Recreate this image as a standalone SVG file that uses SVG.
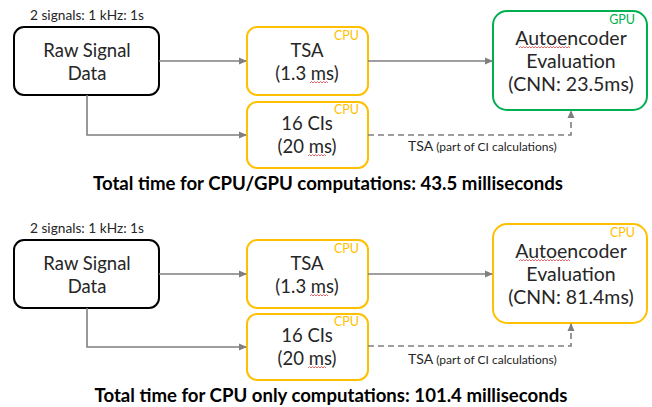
<svg xmlns="http://www.w3.org/2000/svg" width="652" height="407" viewBox="0 0 652 407">
<defs>
<marker id="ah" markerWidth="8" markerHeight="8" refX="7" refY="4" orient="auto" markerUnits="userSpaceOnUse">
<path d="M0,0.5 L8,4 L0,7.5 Z" fill="#7f7f7f"/>
</marker>
<style>
text{font-family:Lato,"Open Sans","Liberation Sans",sans-serif;fill:#262626}
.box{fill:#fff;stroke-width:2}
.raw{stroke:#000}
.cpu{stroke:#ffc000}
.gpu{stroke:#00b050}
.t{font-size:18.5px;text-anchor:middle}
.tag{font-size:12.5px;text-anchor:end}
.tc{fill:#ffc000}
.tg{fill:#00b050}
.lbl{font-size:13.7px;text-anchor:middle}
.total{font-size:18.5px;font-weight:bold;text-anchor:middle;fill:#000}
.con{fill:none;stroke:#7f7f7f;stroke-width:1.6}
.dash{stroke-dasharray:6 4}
.sq{fill:none;stroke:#e04040;stroke-width:0.8}
</style>
</defs>

<!-- Top panel -->
<g id="top">
<g id="raw1">
<text class="lbl" x="87" y="20">2 signals: 1 kHz: 1s</text>
<rect class="box raw" x="14" y="27" width="145" height="68" rx="10"/>
<text class="t" x="87" y="57">Raw Signal</text>
<text class="t" x="87" y="80">Data</text>
</g>
<g id="tsa1">
<rect class="box cpu" x="247" y="27" width="121" height="68" rx="10"/>
<text class="tag tc" x="359" y="40">CPU</text>
<text class="t" x="307" y="57">TSA</text>
<text class="t" x="307" y="80">(1.3 ms)</text>
<path class="sq" d="M310,83 l1.5,-1.5 l1.5,1.5 l1.5,-1.5 l1.5,1.5 l1.5,-1.5 l1.5,1.5 l1.5,-1.5 l1.5,1.5 l1.5,-1.5 l1.5,1.5 l1.5,-1.5 l1.5,1.5"/>
</g>
<g id="ci1">
<rect class="box cpu" x="247" y="102" width="121" height="66" rx="10"/>
<text class="tag tc" x="359" y="114">CPU</text>
<text class="t" x="307" y="130">16 CIs</text>
<text class="t" x="307" y="153">(20 ms)</text>
<path class="sq" d="M308,156 l1.5,-1.5 l1.5,1.5 l1.5,-1.5 l1.5,1.5 l1.5,-1.5 l1.5,1.5 l1.5,-1.5 l1.5,1.5 l1.5,-1.5 l1.5,1.5 l1.5,-1.5 l1.5,1.5"/>
</g>
<g id="ae1">
<rect class="box gpu" x="493" y="11" width="154" height="99" rx="14"/>
<text class="tag tg" x="635" y="24">GPU</text>
<text class="t" x="571" y="45" style="font-size:19.5px">Autoencoder</text>
<text class="t" x="571" y="68" style="font-size:19.5px">Evaluation</text>
<text class="t" x="571" y="91" style="font-size:19.5px">(CNN: 23.5ms)</text>
<path class="sq" d="M519,48 l1.5,-1.5 l1.5,1.5 l1.5,-1.5 l1.5,1.5 l1.5,-1.5 l1.5,1.5 l1.5,-1.5 l1.5,1.5 l1.5,-1.5 l1.5,1.5 l1.5,-1.5 l1.5,1.5 l1.5,-1.5 l1.5,1.5 l1.5,-1.5 l1.5,1.5 l1.5,-1.5 l1.5,1.5 l1.5,-1.5 l1.5,1.5 l1.5,-1.5 l1.5,1.5 l1.5,-1.5 l1.5,1.5 l1.5,-1.5 l1.5,1.5 l1.5,-1.5 l1.5,1.5 l1.5,-1.5 l1.5,1.5 l1.5,-1.5 l1.5,1.5 l1.5,-1.5 l1.5,1.5"/>
</g>
<g id="connectors1">
<path class="con" d="M159,61 H246" marker-end="url(#ah)"/>
<path class="con" d="M87,95 V135 H246" marker-end="url(#ah)"/>
<path class="con" d="M368,61 H492" marker-end="url(#ah)"/>
<path class="con dash" d="M368,135 H571 V111" marker-end="url(#ah)"/>
<text x="408" y="151" style="font-size:14px">TSA <tspan style="font-size:12px">(part of CI calculations)</tspan></text>
</g>
<text class="total" x="328" y="190" textLength="470" lengthAdjust="spacingAndGlyphs">Total time for CPU/GPU computations: 43.5 milliseconds</text>
</g>

<!-- Bottom panel -->
<g id="bottom">
<g id="raw2">
<text class="lbl" x="87" y="233">2 signals: 1 kHz: 1s</text>
<rect class="box raw" x="14" y="240" width="145" height="68" rx="10"/>
<text class="t" x="87" y="270">Raw Signal</text>
<text class="t" x="87" y="293">Data</text>
</g>
<g id="tsa2">
<rect class="box cpu" x="247" y="240" width="121" height="68" rx="10"/>
<text class="tag tc" x="359" y="253">CPU</text>
<text class="t" x="307" y="270">TSA</text>
<text class="t" x="307" y="293">(1.3 ms)</text>
<path class="sq" d="M310,296 l1.5,-1.5 l1.5,1.5 l1.5,-1.5 l1.5,1.5 l1.5,-1.5 l1.5,1.5 l1.5,-1.5 l1.5,1.5 l1.5,-1.5 l1.5,1.5 l1.5,-1.5 l1.5,1.5"/>
</g>
<g id="ci2">
<rect class="box cpu" x="247" y="314" width="121" height="66" rx="10"/>
<text class="tag tc" x="359" y="326">CPU</text>
<text class="t" x="307" y="342">16 CIs</text>
<text class="t" x="307" y="365">(20 ms)</text>
<path class="sq" d="M308,368 l1.5,-1.5 l1.5,1.5 l1.5,-1.5 l1.5,1.5 l1.5,-1.5 l1.5,1.5 l1.5,-1.5 l1.5,1.5 l1.5,-1.5 l1.5,1.5 l1.5,-1.5 l1.5,1.5"/>
</g>
<g id="ae2">
<rect class="box cpu" x="493" y="224" width="154" height="99" rx="14"/>
<text class="tag tc" x="635" y="237">CPU</text>
<text class="t" x="571" y="258" style="font-size:19.5px">Autoencoder</text>
<text class="t" x="571" y="281" style="font-size:19.5px">Evaluation</text>
<text class="t" x="571" y="304" style="font-size:19.5px">(CNN: 81.4ms)</text>
<path class="sq" d="M519,261 l1.5,-1.5 l1.5,1.5 l1.5,-1.5 l1.5,1.5 l1.5,-1.5 l1.5,1.5 l1.5,-1.5 l1.5,1.5 l1.5,-1.5 l1.5,1.5 l1.5,-1.5 l1.5,1.5 l1.5,-1.5 l1.5,1.5 l1.5,-1.5 l1.5,1.5 l1.5,-1.5 l1.5,1.5 l1.5,-1.5 l1.5,1.5 l1.5,-1.5 l1.5,1.5 l1.5,-1.5 l1.5,1.5 l1.5,-1.5 l1.5,1.5 l1.5,-1.5 l1.5,1.5 l1.5,-1.5 l1.5,1.5 l1.5,-1.5 l1.5,1.5 l1.5,-1.5 l1.5,1.5"/>
</g>
<g id="connectors2">
<path class="con" d="M159,274 H246" marker-end="url(#ah)"/>
<path class="con" d="M87,308 V347 H246" marker-end="url(#ah)"/>
<path class="con" d="M368,274 H492" marker-end="url(#ah)"/>
<path class="con dash" d="M368,346 H571 V324" marker-end="url(#ah)"/>
<text x="408" y="364" style="font-size:14px">TSA <tspan style="font-size:12px">(part of CI calculations)</tspan></text>
</g>
<text class="total" x="331" y="402" textLength="473" lengthAdjust="spacingAndGlyphs">Total time for CPU only computations: 101.4 milliseconds</text>
</g>
</svg>
